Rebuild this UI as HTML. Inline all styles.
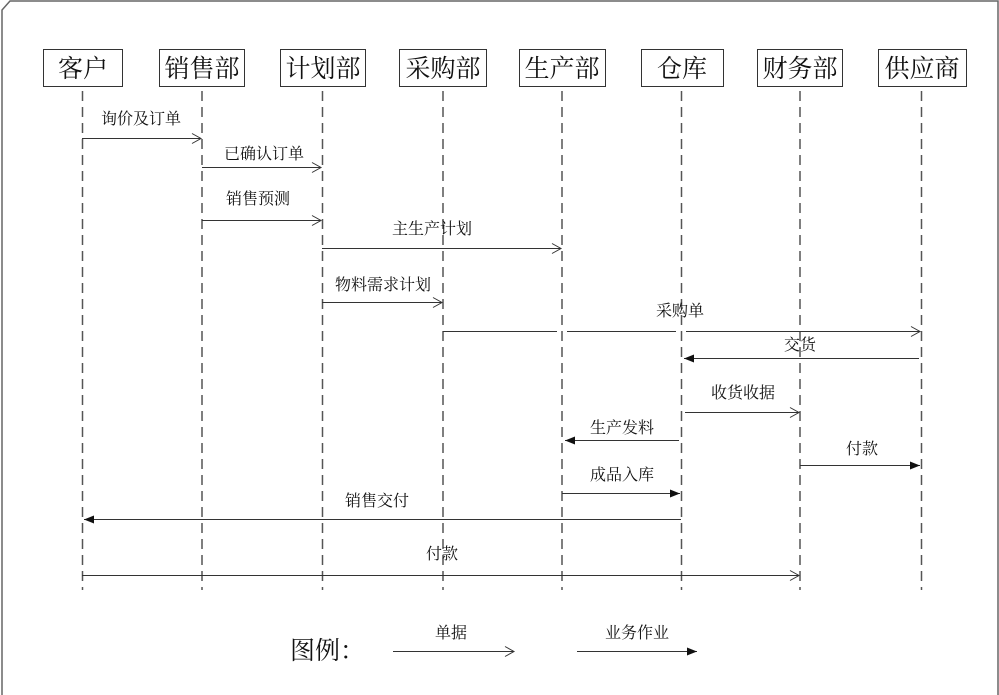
<!DOCTYPE html>
<html><head><meta charset="utf-8"><style>
html,body{margin:0;padding:0;background:#fff;}
svg{display:block;}
text{font-family:"Liberation Serif","Noto Serif CJK SC",serif;fill:#111;}
</style></head><body>
<svg width="999" height="695" viewBox="0 0 999 695" xmlns="http://www.w3.org/2000/svg">
<defs>
<marker id="o" markerWidth="12" markerHeight="12" refX="10" refY="6" orient="auto" markerUnits="userSpaceOnUse"><path d="M1,1 L10,6 L1,11" fill="none" stroke="#333" stroke-width="1"/></marker>
<marker id="f" markerWidth="12" markerHeight="12" refX="10" refY="5" orient="auto" markerUnits="userSpaceOnUse"><path d="M0,1 L10,5 L0,9 Z" fill="#111"/></marker>
</defs>
<path d="M2,695 L2,10 L10,1 L998,1 L998,695" fill="none" stroke="#666" stroke-width="1.5"/>
<g stroke="#333" stroke-width="1" fill="#fff">
<rect x="43.5" y="49.5" width="79" height="37"/>
<rect x="159.5" y="49.5" width="85" height="37"/>
<rect x="280.5" y="49.5" width="85" height="37"/>
<rect x="399.5" y="49.5" width="87" height="37"/>
<rect x="519.5" y="49.5" width="86" height="37"/>
<rect x="641.5" y="49.5" width="82" height="37"/>
<rect x="757.5" y="49.5" width="85" height="37"/>
<rect x="878.5" y="49.5" width="88" height="37"/>
</g>
<g font-size="25" text-anchor="middle">
<text x="83" y="77">客户</text>
<text x="202" y="77">销售部</text>
<text x="323" y="77">计划部</text>
<text x="443" y="77">采购部</text>
<text x="562" y="77">生产部</text>
<text x="682" y="77">仓库</text>
<text x="800" y="77">财务部</text>
<text x="922" y="77">供应商</text>
</g>
<g stroke="#555" stroke-width="1.5" stroke-dasharray="10,6">
<line x1="82.5" y1="91" x2="82.5" y2="590"/>
<line x1="202" y1="91" x2="202" y2="590"/>
<line x1="322.5" y1="91" x2="322.5" y2="590"/>
<line x1="443" y1="91" x2="443" y2="590"/>
<line x1="562" y1="91" x2="562" y2="590"/>
<line x1="681.5" y1="91" x2="681.5" y2="590"/>
<line x1="800" y1="91" x2="800" y2="590"/>
<line x1="921.5" y1="91" x2="921.5" y2="590"/>
</g>
<g stroke="#333" stroke-width="1" fill="none">
<line x1="82" y1="138.5" x2="201" y2="138.5" marker-end="url(#o)"/>
<line x1="202" y1="167.5" x2="321" y2="167.5" marker-end="url(#o)"/>
<line x1="202" y1="220.5" x2="321" y2="220.5" marker-end="url(#o)"/>
<line x1="322" y1="248.5" x2="561" y2="248.5" marker-end="url(#o)"/>
<line x1="322" y1="302.5" x2="442" y2="302.5" marker-end="url(#o)"/>
<line x1="443" y1="331.5" x2="557" y2="331.5"/>
<line x1="567" y1="331.5" x2="676" y2="331.5"/>
<line x1="686" y1="331.5" x2="920" y2="331.5" marker-end="url(#o)"/>
<line x1="919" y1="358.5" x2="684" y2="358.5" marker-end="url(#f)"/>
<line x1="685" y1="412.5" x2="799" y2="412.5" marker-end="url(#o)"/>
<line x1="679" y1="440.5" x2="565" y2="440.5" marker-end="url(#f)"/>
<line x1="800" y1="465.5" x2="920" y2="465.5" marker-end="url(#f)"/>
<line x1="562" y1="493.5" x2="680" y2="493.5" marker-end="url(#f)"/>
<line x1="681" y1="519.5" x2="84" y2="519.5" marker-end="url(#f)"/>
<line x1="82" y1="575.5" x2="799" y2="575.5" marker-end="url(#o)"/>
<line x1="393" y1="651.5" x2="514" y2="651.5" marker-end="url(#o)"/>
<line x1="577" y1="651.5" x2="697" y2="651.5" marker-end="url(#f)"/>
</g>
<g font-size="16" text-anchor="middle">
<text x="141" y="124">询价及订单</text>
<text x="264" y="159">已确认订单</text>
<text x="258" y="204">销售预测</text>
<text x="432" y="234">主生产计划</text>
<text x="383" y="290">物料需求计划</text>
<text x="680" y="316">采购单</text>
<text x="800" y="350">交货</text>
<text x="743" y="398">收货收据</text>
<text x="622" y="433">生产发料</text>
<text x="862" y="454">付款</text>
<text x="622" y="480">成品入库</text>
<text x="377" y="506">销售交付</text>
<text x="442" y="559">付款</text>
<text x="451" y="638">单据</text>
<text x="637" y="638">业务作业</text>
</g>
<text x="290" y="659" font-size="25">图例：</text>
</svg>
</body></html>
